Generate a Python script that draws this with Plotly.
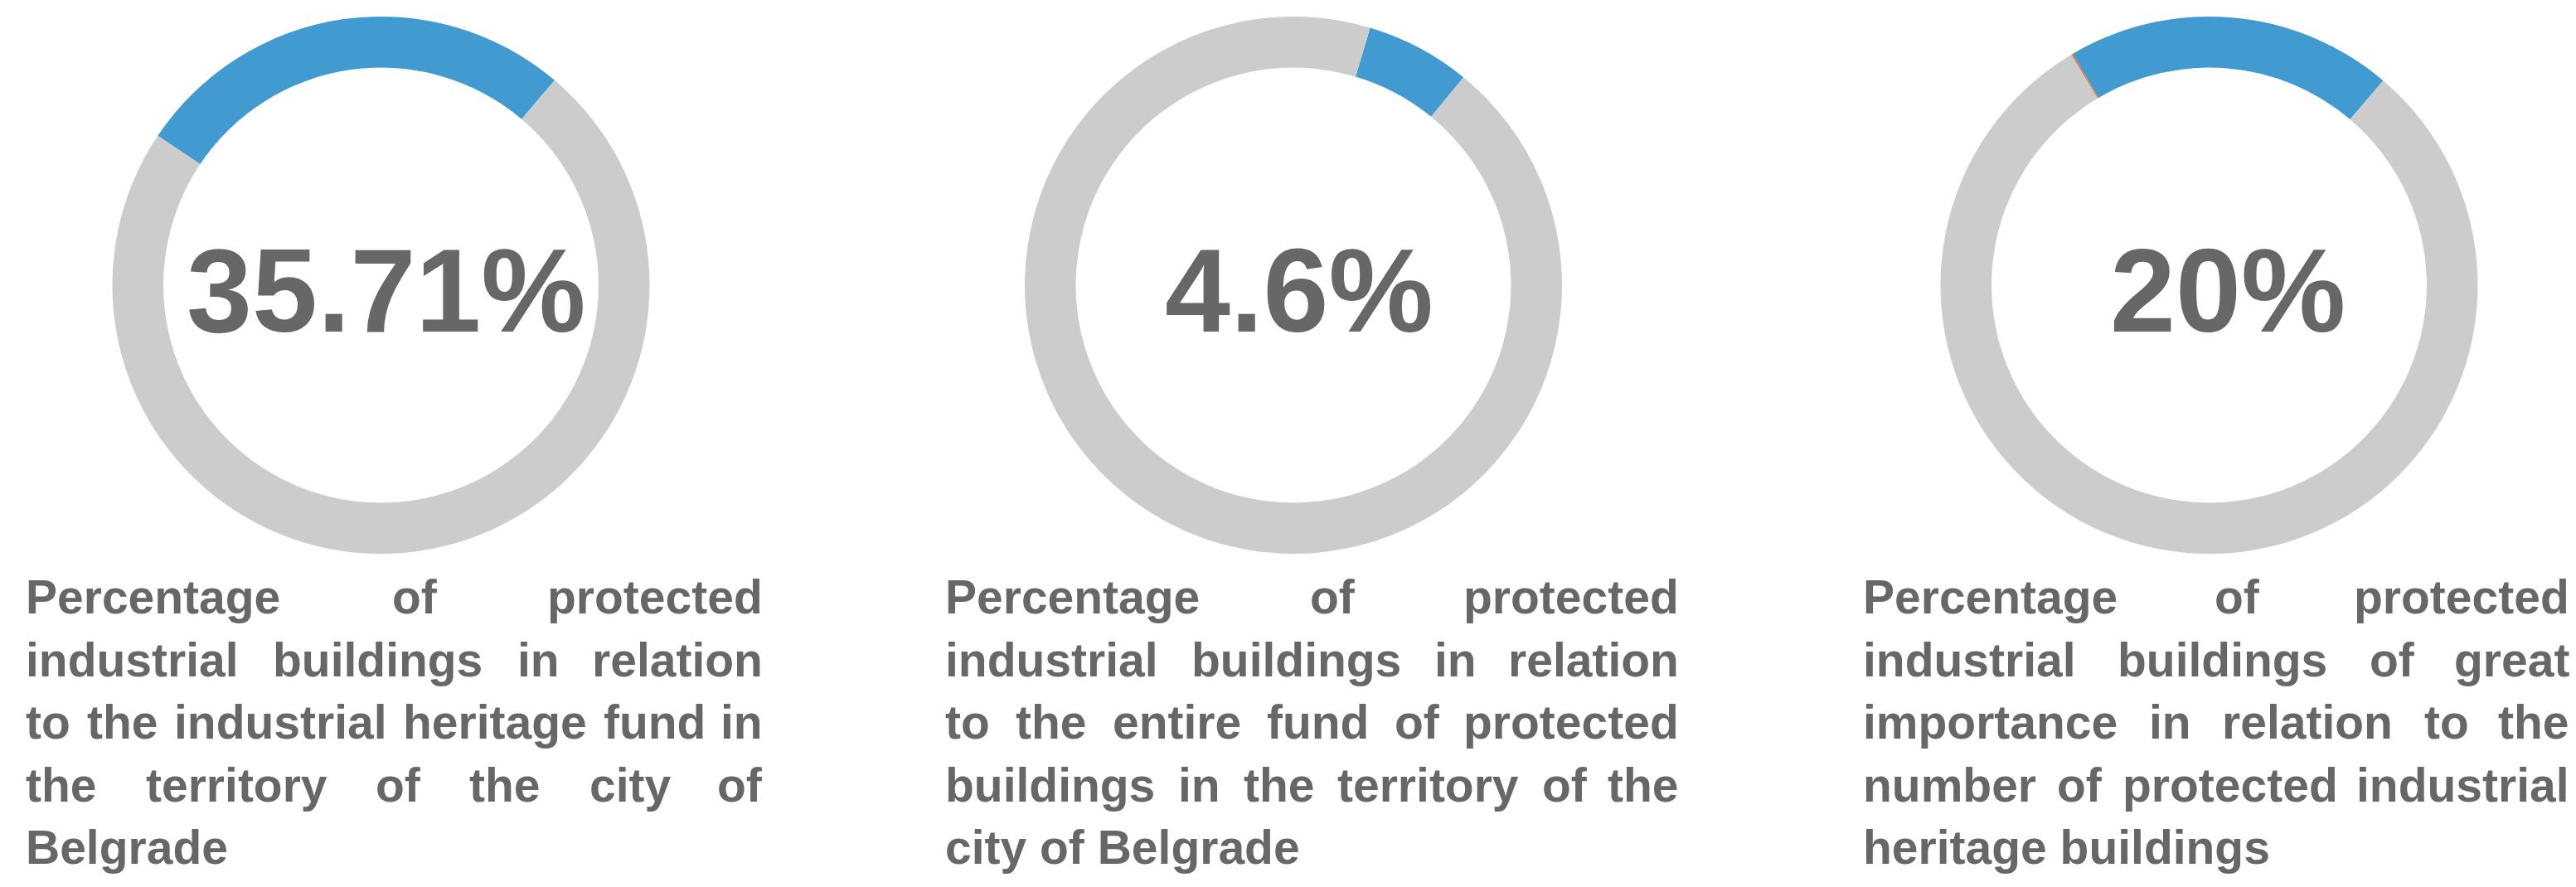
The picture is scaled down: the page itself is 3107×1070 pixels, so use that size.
import plotly.graph_objects as go

# ---------------- data ----------------
center_labels = ["35.71%", "4.6%", "20%"]
blue_share = [26.8, 6.3, 19.7]      # highlighted (blue) arc, % of ring
orange_share = [0.0, 0.0, 0.1]      # thin orange sliver
grey_share = [73.2, 93.7, 80.2]     # remaining grey ring

descriptions = [
    ["Percentage of protected",
     "industrial buildings in relation",
     "to the industrial heritage fund in",
     "the territory of the city of",
     "Belgrade"],
    ["Percentage of protected",
     "industrial buildings in relation",
     "to the entire fund of protected",
     "buildings in the territory of the",
     "city of Belgrade"],
    ["Percentage of protected",
     "industrial buildings of great",
     "importance in relation to the",
     "number of protected industrial",
     "heritage buildings"],
]

# ---------------- layout / style ----------------
W, H = 3107, 1070
GREY = "#cccccc"
BLUE = "#429bd0"
ORANGE = "#ed7d31"
TEXT = "#676767"
FONT = "Liberation Sans, Arial, sans-serif"

ring_cx = [451.5, 1552, 2656.5]
ring_cy = 336
ring_r = 324
start_angle = [-56.2, 16.6, -30.9]

label_cx = [457.5, 1559, 2679]
label_baseline = 393
label_fs = 142

text_left = [22, 1131, 2238]
text_right = [913, 2018, 3092]
first_baseline = 733
line_gap = 75.5
body_fs = 57

# Liberation Sans Bold advance widths (per 1000 em)
WIDTHS = dict(zip("abcdefghijklmnopqrstuvwxyz",
                  [556, 611, 556, 611, 556, 333, 611, 611, 278, 278, 556, 278, 889,
                   611, 611, 611, 611, 389, 556, 333, 611, 556, 778, 556, 556, 500]))
WIDTHS.update({"B": 722, "P": 667, " ": 278})


def text_w(s, fs):
    return sum(WIDTHS.get(c, 556) for c in s) * fs / 1000.0


def px_x(x):
    return x / W


def px_y(y):
    return 1 - y / H


fig = go.Figure()

for i in range(3):
    vals = [orange_share[i], blue_share[i], grey_share[i]]
    cols = [ORANGE, BLUE, GREY]
    fig.add_trace(go.Pie(
        values=vals,
        labels=["a%d" % i, "b%d" % i, "c%d" % i],
        marker=dict(colors=cols, line=dict(width=0)),
        hole=0.81,
        sort=False,
        direction="clockwise",
        rotation=start_angle[i],
        textinfo="none",
        hoverinfo="skip",
        showlegend=False,
        domain=dict(x=[px_x(ring_cx[i] - ring_r), px_x(ring_cx[i] + ring_r)],
                    y=[px_y(ring_cy + ring_r), px_y(ring_cy - ring_r)]),
    ))

annotations = []
# big central numbers
for i, lab in enumerate(center_labels):
    annotations.append(dict(
        x=px_x(label_cx[i]), y=px_y(label_baseline + 0.212 * label_fs),
        xref="paper", yref="paper", xanchor="center", yanchor="bottom",
        text=lab, showarrow=False, borderpad=0,
        font=dict(family=FONT, size=label_fs, color=TEXT, weight="bold"),
    ))

# justified description text, word by word
for b, lines in enumerate(descriptions):
    left, right = text_left[b], text_right[b]
    for li, line in enumerate(lines):
        base = first_baseline + li * line_gap
        yb = px_y(base + 0.212 * body_fs)
        words = line.split(" ")
        last_line = li == len(lines) - 1
        if last_line or len(words) == 1:
            annotations.append(dict(
                x=px_x(left), y=yb, xref="paper", yref="paper",
                xanchor="left", yanchor="bottom", text=line, showarrow=False,
                borderpad=0,
                font=dict(family=FONT, size=body_fs, color=TEXT, weight="bold")))
            continue
        widths = [text_w(w_, body_fs) for w_ in words]
        gap = (right - left - sum(widths)) / (len(words) - 1)
        x = left
        for k, word in enumerate(words):
            if k == len(words) - 1:
                annotations.append(dict(
                    x=px_x(right), y=yb, xref="paper", yref="paper",
                    xanchor="right", yanchor="bottom", text=word, showarrow=False,
                    borderpad=0,
                    font=dict(family=FONT, size=body_fs, color=TEXT, weight="bold")))
            else:
                annotations.append(dict(
                    x=px_x(x), y=yb, xref="paper", yref="paper",
                    xanchor="left", yanchor="bottom", text=word, showarrow=False,
                    borderpad=0,
                    font=dict(family=FONT, size=body_fs, color=TEXT, weight="bold")))
            x += widths[k] + gap

fig.update_layout(
    width=W, height=H,
    margin=dict(l=0, r=0, t=0, b=0),
    paper_bgcolor="white", plot_bgcolor="white",
    annotations=annotations,
)

fig.write_html("out.html")
